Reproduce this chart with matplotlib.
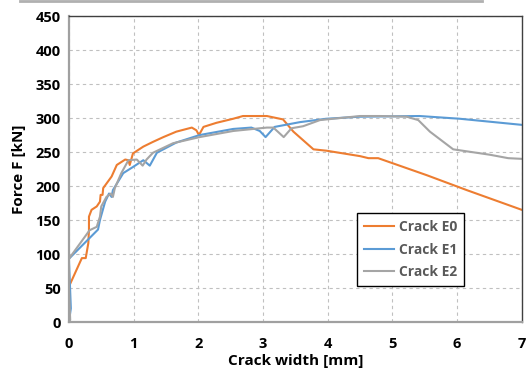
import matplotlib
matplotlib.use("Agg")
import matplotlib.pyplot as plt
from matplotlib.lines import Line2D

plt.rcParams['font.family'] = ['Open Sans', 'DejaVu Sans']

# Crack E0
x_e0 = [0.0, 0.0, 0.20, 0.26, 0.30, 0.31, 0.31, 0.35, 0.43, 0.48, 0.49, 0.52, 0.53,
        0.66, 0.74, 0.87, 0.92, 0.94, 0.99, 1.15, 1.30, 1.46, 1.66, 1.90, 1.97, 2.01,
        2.08, 2.28, 2.54, 2.69, 2.85, 3.06, 3.31, 3.47, 3.78, 3.98, 4.50, 4.63, 4.78,
        5.17, 5.53, 6.15, 7.0]
y_e0 = [0, 52, 94, 94, 116, 135, 155, 165, 170, 177, 187, 187, 197,
        214, 231, 239, 238, 231, 248, 258, 265, 272, 280, 286, 282, 275,
        287, 293, 299, 303, 303, 303, 298, 280, 254, 252, 244, 241, 241,
        228, 216, 194, 165]

# Crack E1
x_e1 = [0.0, 0.03, 0.0, 0.45, 0.48, 0.56, 0.62, 0.66, 0.68, 0.84, 0.99, 1.15, 1.25,
        1.36, 1.66, 2.02, 2.54, 2.82, 2.95, 3.04, 3.18, 3.57, 3.98, 4.50, 5.42, 6.04, 7.0]
y_e1 = [0, 20, 93, 136, 150, 177, 189, 184, 194, 219, 228, 238, 230,
        249, 264, 275, 284, 286, 281, 272, 287, 294, 299, 302, 303, 299, 290]

# Crack E2
x_e2 = [0.0, 0.02, 0.0, 0.0, 0.32, 0.43, 0.48, 0.50, 0.58, 0.65, 0.68, 0.71, 0.81,
        0.92, 1.05, 1.14, 1.20, 1.30, 1.61, 2.02, 2.54, 3.06, 3.16, 3.32, 3.44, 3.62,
        3.88, 4.50, 4.81, 5.22, 5.40, 5.58, 5.94, 6.51, 6.79, 7.0]
y_e2 = [0, 3, 52, 93, 135, 140, 155, 170, 184, 189, 184, 197, 219,
        238, 239, 230, 239, 249, 263, 272, 281, 286, 286, 272, 285, 288,
        297, 303, 303, 302, 297, 280, 254, 246, 241, 240]

series = [("Crack E0", x_e0, y_e0, "#ED7D31"),
          ("Crack E1", x_e1, y_e1, "#5B9BD5"),
          ("Crack E2", x_e2, y_e2, "#A5A5A5")]

fig = plt.figure(figsize=(5.26, 3.74), dpi=100)
ax = fig.add_axes([0.131, 0.139, 0.861, 0.818])

for name, xs, ys, c in series:
    ax.plot(xs, ys, color=c, lw=1.5, label=name)

ax.set_xlim(0, 7)
ax.set_ylim(0, 450)
ax.set_xticks(range(0, 8))
ax.set_yticks(range(0, 451, 50))
ax.grid(True, color="#c0c0c0", ls=(0, (3, 3)), lw=0.8)
ax.set_axisbelow(True)
ax.tick_params(length=0, labelsize=10.5)
ax.tick_params(axis="x", pad=11)
ax.tick_params(axis="y", pad=6)
for lab in ax.get_xticklabels() + ax.get_yticklabels():
    lab.set_fontweight("bold")

for s in ("left", "bottom"):
    ax.spines[s].set_color("#a0a0a0")
    ax.spines[s].set_linewidth(1.6)
for s in ("top", "right"):
    ax.spines[s].set_color("#404040")
    ax.spines[s].set_linewidth(1.0)

ax.set_xlabel("Crack width [mm]", fontsize=11, fontweight="bold", labelpad=2)
ax.set_ylabel("Force F [kN]", fontsize=11, fontweight="bold", labelpad=7)

leg = ax.legend(loc="upper left", bbox_to_anchor=(0.636, 0.355), fancybox=False,
                edgecolor="black", framealpha=1, borderpad=0.5, handlelength=2.2,
                handletextpad=0.3, labelspacing=0.6, borderaxespad=0)
leg.get_frame().set_linewidth(1.0)
for t in leg.get_texts():
    t.set_color("#595959")
    t.set_fontweight("bold")
    t.set_fontsize(10)

# thin gray strip at the top edge of the image
fig.add_artist(Line2D([20 / 526, 482 / 526], [0.998, 0.998], color="#b0b0b0", lw=2))

fig.savefig("out.png", dpi=100)
